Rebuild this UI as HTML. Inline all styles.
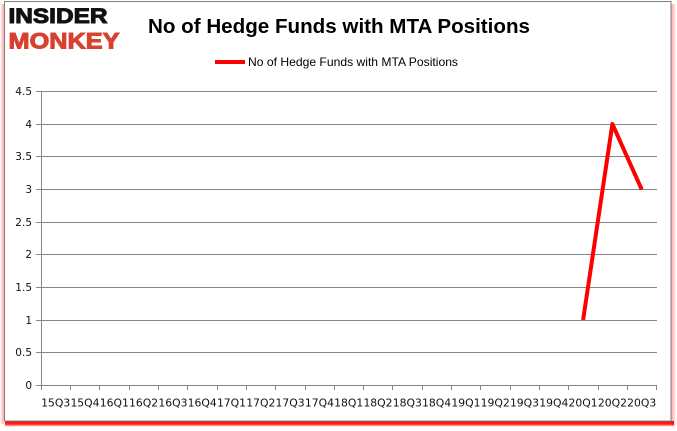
<!DOCTYPE html>
<html>
<head>
<meta charset="utf-8">
<style>
  html,body{margin:0;padding:0;background:#fff;}
  body{width:677px;height:431px;overflow:hidden;}
  svg{display:block;}
</style>
</head>
<body>
<svg width="677" height="431" viewBox="0 0 677 431" xmlns="http://www.w3.org/2000/svg">
  <defs>
    <linearGradient id="gb" x1="0" y1="0" x2="0" y2="1">
      <stop offset="0" stop-color="#ff0000" stop-opacity="1"/>
      <stop offset="0.6" stop-color="#ff0000" stop-opacity="0.85"/>
      <stop offset="1" stop-color="#ff0000" stop-opacity="0.1"/>
    </linearGradient>
    <linearGradient id="gl" x1="1" y1="0" x2="0" y2="0">
      <stop offset="0" stop-color="#ff6060" stop-opacity="0.55"/>
      <stop offset="1" stop-color="#ff6060" stop-opacity="0"/>
    </linearGradient>
    <linearGradient id="gr" x1="0" y1="0" x2="1" y2="0">
      <stop offset="0" stop-color="#ff6060" stop-opacity="0.55"/>
      <stop offset="1" stop-color="#ff6060" stop-opacity="0"/>
    </linearGradient>
  </defs>

  <!-- glow / shadow -->
  <rect x="0" y="4" width="4" height="420" fill="url(#gl)"/>
  <rect x="671.5" y="4" width="5" height="421" fill="url(#gr)"/>
  <rect x="5" y="421" width="669" height="5.5" fill="url(#gb)"/>

  <!-- frame -->
  <rect x="4.5" y="1.5" width="666.5" height="419.5" fill="#fff" stroke="#7f7f7f" stroke-width="1"/>

  <!-- logo -->
  <text x="8.5" y="23" font-family="Liberation Sans, sans-serif" font-weight="bold" font-size="21" fill="#111" stroke="#111" stroke-width="1" textLength="99" lengthAdjust="spacingAndGlyphs">INSIDER</text>
  <text x="8.5" y="48.5" font-family="Liberation Sans, sans-serif" font-weight="bold" font-size="22.5" fill="#d8412f" stroke="#d8412f" stroke-width="1" textLength="111" lengthAdjust="spacingAndGlyphs">MONKEY</text>

  <!-- title -->
  <text x="148" y="33" font-family="Liberation Sans, sans-serif" font-weight="bold" font-size="20.5" fill="#000" textLength="382" lengthAdjust="spacingAndGlyphs">No of Hedge Funds with MTA Positions</text>

  <!-- legend -->
  <line x1="215" y1="62" x2="245" y2="62" stroke="#ff0000" stroke-width="4"/>
  <text x="248" y="66" font-family="Liberation Sans, sans-serif" font-size="12" fill="#000" textLength="210" lengthAdjust="spacingAndGlyphs">No of Hedge Funds with MTA Positions</text>

  <!-- gridlines -->
  <g stroke="#868686" stroke-width="1" shape-rendering="crispEdges">
    <line x1="36" y1="91.5" x2="657" y2="91.5"/>
    <line x1="36" y1="124.5" x2="657" y2="124.5"/>
    <line x1="36" y1="156.5" x2="657" y2="156.5"/>
    <line x1="36" y1="189.5" x2="657" y2="189.5"/>
    <line x1="36" y1="222.5" x2="657" y2="222.5"/>
    <line x1="36" y1="254.5" x2="657" y2="254.5"/>
    <line x1="36" y1="287.5" x2="657" y2="287.5"/>
    <line x1="36" y1="320.5" x2="657" y2="320.5"/>
    <line x1="36" y1="352.5" x2="657" y2="352.5"/>
    <line x1="36" y1="385.5" x2="657" y2="385.5"/>
    <line x1="41.5" y1="91" x2="41.5" y2="390"/>
    <!-- x ticks -->
    <line x1="70.5" y1="385" x2="70.5" y2="390"/>
    <line x1="99.5" y1="385" x2="99.5" y2="390"/>
    <line x1="129.5" y1="385" x2="129.5" y2="390"/>
    <line x1="158.5" y1="385" x2="158.5" y2="390"/>
    <line x1="187.5" y1="385" x2="187.5" y2="390"/>
    <line x1="217.5" y1="385" x2="217.5" y2="390"/>
    <line x1="246.5" y1="385" x2="246.5" y2="390"/>
    <line x1="275.5" y1="385" x2="275.5" y2="390"/>
    <line x1="305.5" y1="385" x2="305.5" y2="390"/>
    <line x1="334.5" y1="385" x2="334.5" y2="390"/>
    <line x1="363.5" y1="385" x2="363.5" y2="390"/>
    <line x1="392.5" y1="385" x2="392.5" y2="390"/>
    <line x1="422.5" y1="385" x2="422.5" y2="390"/>
    <line x1="451.5" y1="385" x2="451.5" y2="390"/>
    <line x1="480.5" y1="385" x2="480.5" y2="390"/>
    <line x1="510.5" y1="385" x2="510.5" y2="390"/>
    <line x1="539.5" y1="385" x2="539.5" y2="390"/>
    <line x1="568.5" y1="385" x2="568.5" y2="390"/>
    <line x1="598.5" y1="385" x2="598.5" y2="390"/>
    <line x1="627.5" y1="385" x2="627.5" y2="390"/>
    <line x1="656.5" y1="385" x2="656.5" y2="390"/>
  </g>

  <!-- y labels -->
  <g font-family="DejaVu Sans, sans-serif" font-size="10.5" fill="#111" text-anchor="end">
    <text x="32" y="95">4.5</text>
    <text x="32" y="128">4</text>
    <text x="32" y="160">3.5</text>
    <text x="32" y="193">3</text>
    <text x="32" y="226">2.5</text>
    <text x="32" y="258">2</text>
    <text x="32" y="291">1.5</text>
    <text x="32" y="324">1</text>
    <text x="32" y="356">0.5</text>
    <text x="32" y="389">0</text>
  </g>

  <!-- x labels -->
  <g font-family="DejaVu Sans, sans-serif" font-size="10.8" fill="#111" text-anchor="middle">
    <text x="55.7" y="406.5">15Q3</text>
    <text x="85.0" y="406.5">15Q4</text>
    <text x="114.3" y="406.5">16Q1</text>
    <text x="143.6" y="406.5">16Q2</text>
    <text x="172.9" y="406.5">16Q3</text>
    <text x="202.2" y="406.5">16Q4</text>
    <text x="231.5" y="406.5">17Q1</text>
    <text x="260.8" y="406.5">17Q2</text>
    <text x="290.1" y="406.5">17Q3</text>
    <text x="319.4" y="406.5">17Q4</text>
    <text x="348.7" y="406.5">18Q1</text>
    <text x="378.0" y="406.5">18Q2</text>
    <text x="407.3" y="406.5">18Q3</text>
    <text x="436.6" y="406.5">18Q4</text>
    <text x="465.9" y="406.5">19Q1</text>
    <text x="495.2" y="406.5">19Q2</text>
    <text x="524.5" y="406.5">19Q3</text>
    <text x="553.8" y="406.5">19Q4</text>
    <text x="583.1" y="406.5">20Q1</text>
    <text x="612.4" y="406.5">20Q2</text>
    <text x="641.7" y="406.5">20Q3</text>
  </g>

  <!-- series -->
  <polyline points="583.1,320 612.4,124 641.7,189.5" fill="none" stroke="#ff0000" stroke-width="4" stroke-linejoin="round" stroke-linecap="butt"/>
</svg>
</body>
</html>
